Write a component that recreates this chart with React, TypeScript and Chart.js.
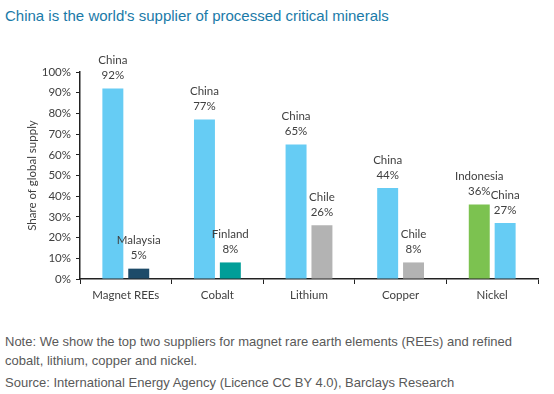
import React, { useEffect, useRef } from "react";
import { Chart, registerables } from "chart.js";

Chart.register(...registerables);

const categories = ["Magnet REEs", "Cobalt", "Lithium", "Copper", "Nickel"];
const firstSuppliers = ["China", "China", "China", "China", "Indonesia"];
const firstValues = [92, 77, 65, 44, 36];
const secondSuppliers = ["Malaysia", "Finland", "Chile", "Chile", "China"];
const secondValues = [5, 8, 26, 8, 27];
const yTicks = [0, 10, 20, 30, 40, 50, 60, 70, 80, 90, 100];

const supplierColors: Record<string, string> = {
  China: "#66CCF4",
  Malaysia: "#1D4B69",
  Finland: "#009E98",
  Chile: "#B3B3B3",
  Indonesia: "#7CC250",
};

const LABEL_FONT = "Lato, 'Noto Sans', sans-serif";

const barLabelPlugin = {
  id: "barLabels",
  afterDatasetsDraw(chart: any) {
    const ctx = chart.ctx;
    ctx.save();
    ctx.font = `11.5px ${LABEL_FONT}`;
    ctx.fillStyle = "#404040";
    ctx.textAlign = "center";
    ctx.textBaseline = "middle";
    chart.data.datasets.forEach((ds: any, di: number) => {
      const meta = chart.getDatasetMeta(di);
      meta.data.forEach((el: any, i: number) => {
        const names = ds.supplierNames as string[];
        const v = ds.data[i];
        ctx.fillText(`${v}%`, el.x, el.y - 13);
        ctx.fillText(names[i], el.x, el.y - 28);
      });
    });
    ctx.restore();
  },
};

export default function App() {
  const ref = useRef<HTMLCanvasElement>(null);
  useEffect(() => {
    if (!ref.current) return;
    const chart = new Chart(ref.current, {
      type: "bar",
      data: {
        labels: categories,
        datasets: [
          {
            label: "Top supplier",
            data: firstValues,
            backgroundColor: firstSuppliers.map((s) => supplierColors[s]),
            categoryPercentage: 0.565,
            barPercentage: 0.81,
            supplierNames: firstSuppliers,
          } as any,
          {
            label: "Second supplier",
            data: secondValues,
            backgroundColor: secondSuppliers.map((s) => supplierColors[s]),
            categoryPercentage: 0.565,
            barPercentage: 0.81,
            supplierNames: secondSuppliers,
          } as any,
        ],
      },
      options: {
        responsive: false,
        animation: false,
        layout: { padding: { top: 32, right: 16, left: 0, bottom: 0 } },
        plugins: {
          legend: { display: false },
          tooltip: { enabled: false },
          title: { display: false },
        },
        scales: {
          x: {
            grid: {
              display: true,
              offset: true,
              drawOnChartArea: false,
              drawTicks: true,
              tickLength: 5,
              color: "#222",
            },
            border: { display: true, color: "#222", width: 1.5 },
            ticks: {
              color: "#404040",
              font: { family: LABEL_FONT, size: 11.5 },
              padding: 4,
              maxRotation: 0,
            },
            afterFit: (scale: any) => {
              scale.height = 31;
            },
          },
          y: {
            min: 0,
            max: 100,
            afterBuildTicks: (scale: any) => {
              scale.ticks = yTicks.map((v) => ({ value: v }));
            },
            grid: {
              display: true,
              drawOnChartArea: false,
              drawTicks: true,
              tickLength: 4,
              color: "#222",
            },
            border: { display: true, color: "#222", width: 1.5 },
            ticks: {
              color: "#404040",
              font: { family: LABEL_FONT, size: 11.5 },
              padding: 5,
              callback: (v: any) => `${v}%`,
            },
            title: {
              display: true,
              text: "Share of global supply",
              color: "#404040",
              font: { family: LABEL_FONT, size: 11.5 },
              padding: { top: 25, bottom: 0 },
            },
            afterFit: (scale: any) => {
              scale.width = 80;
            },
          },
        },
      },
      plugins: [barLabelPlugin],
    });
    return () => chart.destroy();
  }, []);

  const noteStyle: React.CSSProperties = {
    position: "absolute",
    left: 5,
    fontFamily: "Arial, 'Liberation Sans', sans-serif",
    fontSize: 13,
    color: "#595959",
    whiteSpace: "nowrap",
    margin: 0,
    lineHeight: "19px",
  };

  return (
    <div
      style={{
        position: "fixed",
        left: 0,
        top: 0,
        width: 554,
        height: 394,
        background: "#fff",
        overflow: "hidden",
      }}
    >
      <div
        style={{
          position: "absolute",
          left: 5,
          top: 6,
          fontFamily: "Arial, 'Liberation Sans', sans-serif",
          fontSize: 15,
          color: "#1A7AA8",
          whiteSpace: "nowrap",
          lineHeight: "20px",
        }}
      >
        China is the world's supplier of processed critical minerals
      </div>
      <canvas
        ref={ref}
        width={554}
        height={270}
        style={{ position: "absolute", left: 0, top: 40, width: 554, height: 270 }}
      />
      <div style={{ ...noteStyle, top: 332 }}>
        Note: We show the top two suppliers for magnet rare earth elements (REEs) and refined
        <br />
        cobalt, lithium, copper and nickel.
      </div>
      <div style={{ ...noteStyle, top: 373 }}>
        Source: International Energy Agency (Licence CC BY 4.0), Barclays Research
      </div>
    </div>
  );
}
